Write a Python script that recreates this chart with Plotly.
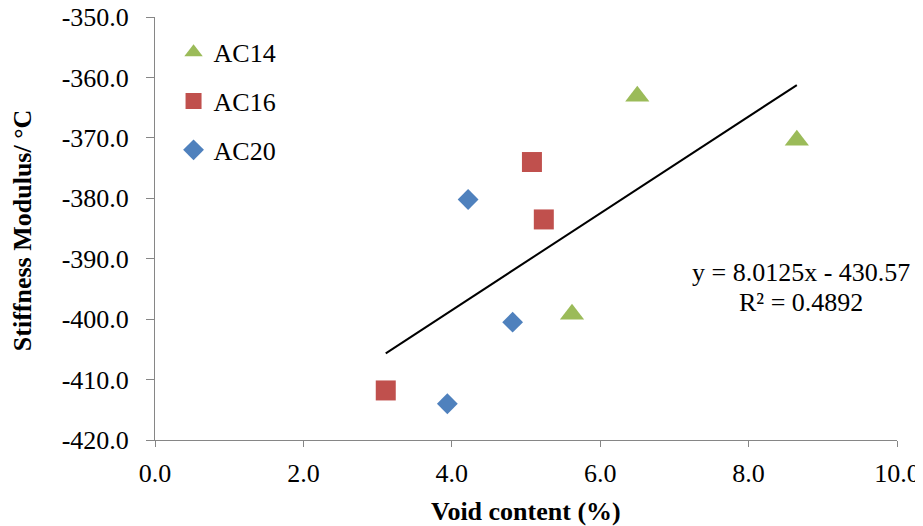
import plotly.graph_objects as go

# Data
ac14_void = [6.50, 8.65, 5.62]
ac14_stiff = [-363.1, -370.4, -399.2]
ac16_void = [5.08, 5.24, 3.11]
ac16_stiff = [-374.0, -383.5, -411.8]
ac20_void = [4.22, 4.82, 3.94]
ac20_stiff = [-380.2, -400.5, -414.0]

trend_slope = 8.0125
trend_intercept = -430.57
trend_r2 = 0.4892

x_ticks = [0, 2, 4, 6, 8, 10]
y_ticks = [-350, -360, -370, -380, -390, -400, -410, -420]
x_tick_text = [f"{v:.1f}" for v in x_ticks]
y_tick_text = [f"{v:.1f}" for v in y_ticks]  # ASCII hyphen as in reference

FONT = "Liberation Serif"
FS = 26

all_x = ac14_void + ac16_void + ac20_void
tx = [min(all_x), max(all_x)]
ty = [trend_slope * v + trend_intercept for v in tx]

fig = go.Figure()
fig.add_trace(go.Scatter(x=ac14_void, y=ac14_stiff, mode="markers", name="AC14",
                         legendgroup="a", marker=dict(symbol="triangle-up", size=21, color="#9BBB59")))
fig.add_trace(go.Scatter(x=ac16_void, y=ac16_stiff, mode="markers", name="AC16",
                         legendgroup="b", marker=dict(symbol="square", size=20, color="#C0504D")))
fig.add_trace(go.Scatter(x=ac20_void, y=ac20_stiff, mode="markers", name="AC20",
                         legendgroup="c", marker=dict(symbol="diamond", size=16, color="#4F81BD")))
fig.add_trace(go.Scatter(x=tx, y=ty, mode="lines", showlegend=False,
                         line=dict(color="black", width=2)))

fig.add_annotation(xref="paper", yref="paper", x=0.871, y=0.396, xanchor="center", yanchor="middle",
                   text=f"y = {trend_slope}x - {abs(trend_intercept)}",
                   showarrow=False, font=dict(family=FONT, size=FS, color="black"))
fig.add_annotation(xref="paper", yref="paper", x=0.871, y=0.326, xanchor="center", yanchor="middle",
                   text=f"R² = {trend_r2}",
                   showarrow=False, font=dict(family=FONT, size=FS, color="black"))

# axis titles
fig.add_annotation(xref="paper", yref="paper", x=0.5, y=0, xanchor="center", yanchor="middle",
                   yshift=-71, text="<b>Void content (%)</b>", showarrow=False,
                   font=dict(family=FONT, size=FS, color="black"))
fig.add_annotation(xref="paper", yref="paper", x=0, y=0.496, xanchor="center", yanchor="middle",
                   xshift=-133, textangle=-90, text="<b>Stiffness Modulus/ °C</b>", showarrow=False,
                   font=dict(family=FONT, size=FS, color="black"))

# page body has an 8px margin, so the figure is sized to fit the 923x526 window
fig.update_layout(
    width=915, height=518,
    margin=dict(l=147, r=26, t=9, b=86, autoexpand=False),
    paper_bgcolor="white", plot_bgcolor="white",
    font=dict(family=FONT, size=FS, color="black"),
    showlegend=True,
    legend=dict(x=0.025, y=0.972, xanchor="left", yanchor="top", tracegroupgap=12,
                font=dict(family=FONT, size=FS, color="black"), bgcolor="rgba(0,0,0,0)"),
    xaxis=dict(range=[0, 10], tickvals=x_ticks, ticktext=x_tick_text, showgrid=False, zeroline=False,
               showline=True, linecolor="#868686", linewidth=1, ticks="outside", ticklen=6,
               tickcolor="#868686", tickfont=dict(family=FONT, size=FS), automargin=False,
               ticklabelstandoff=4, ticklabeloverflow="allow"),
    yaxis=dict(range=[-420, -350], tickvals=y_ticks, ticktext=y_tick_text, showgrid=False, zeroline=False,
               showline=True, linecolor="#868686", linewidth=1, ticks="outside", ticklen=8,
               tickcolor="#868686", tickfont=dict(family=FONT, size=FS), automargin=False,
               ticklabelstandoff=12, ticklabeloverflow="allow"),
)

fig.write_html("out.html")
